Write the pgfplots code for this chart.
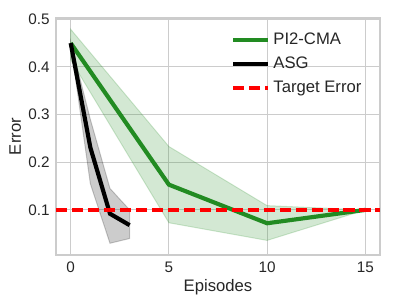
\documentclass[border=0pt]{standalone}
\usepackage{pgfplots}
\pgfplotsset{compat=1.18}
\usepackage{fontspec}
\setmainfont{Liberation Sans}
\definecolor{fgreen}{HTML}{228B22}
\definecolor{gridc}{HTML}{CCCCCC}
\definecolor{txt}{HTML}{262626}
\begin{document}
\begin{tikzpicture}
\path[use as bounding box] (-40.3pt,-32.4pt) rectangle (247.7pt,183.6pt);
\begin{axis}[
  at={(0pt,0pt)}, anchor=south west,
  scale only axis, width=233.3pt, height=170.6pt,
  xmin=-0.75, xmax=15.75, ymin=0.0054, ymax=0.5026,
  xtick={0,5,10,15}, ytick={0.1,0.2,0.3,0.4,0.5},
  yticklabel style={/pgf/number format/fixed, /pgf/number format/precision=1, /pgf/number format/fixed zerofill},
  /pgf/number format/assume math mode=true,
  tick label style={font=\fontsize{11}{13}\selectfont, text=txt},
  label style={font=\fontsize{12}{14}\selectfont, text=txt},
  xlabel={Episodes}, ylabel={Error},
  xlabel style={yshift=2pt},
  ylabel style={yshift=-1.5pt},
  grid=major, major grid style={gridc, line width=0.8pt},
  axis line style={gridc, line width=1pt},
  tick style={draw=none},
  xticklabel style={yshift=-1.5pt},
  yticklabel style={xshift=-1pt},
  legend style={draw=none, fill=none, at={(0.967,0.965)}, anchor=north east,
    font=\fontsize{12}{14}\selectfont, text=txt, row sep=2.5pt,
    legend cell align=left, nodes={inner sep=2.5pt}},
  legend image code/.code={\draw[#1] (-3pt,0pt) -- (22pt,0pt);},
]
% bands
\addplot[forget plot, fill=fgreen, fill opacity=0.2, draw=fgreen, draw opacity=0.2, line width=0.7pt]
  coordinates {(0,0.479)(5,0.233)(10,0.109)(15,0.1)(15,0.1)(10,0.036)(5,0.073)(0,0.415)} -- cycle;
\addplot[forget plot, fill=black, fill opacity=0.2, draw=black, draw opacity=0.2, line width=0.7pt]
  coordinates {(0,0.452)(1,0.29)(2,0.145)(3,0.100)(3,0.040)(2,0.030)(1,0.155)(0,0.448)} -- cycle;
% lines
\addplot[fgreen, line width=3pt] coordinates {(0,0.450)(5,0.153)(10,0.072)(15,0.100)};
\addlegendentry{PI2-CMA}
\addplot[black, line width=3pt] coordinates {(0,0.450)(1,0.231)(2,0.092)(3,0.068)};
\addlegendentry{ASG}
\addplot[red, line width=3pt, dash pattern=on 8pt off 3.5pt] coordinates {(-0.75,0.1)(15.75,0.1)};
\addlegendentry{Target Error}
\end{axis}
\end{tikzpicture}
\end{document}
